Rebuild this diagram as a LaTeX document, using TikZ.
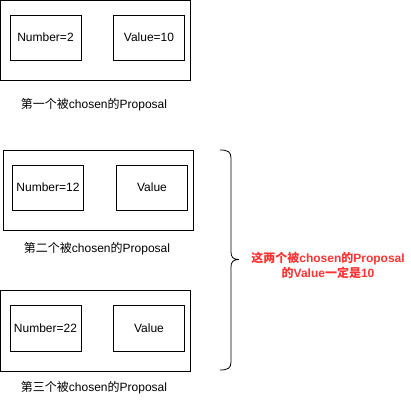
\documentclass[tikz,border=0pt]{standalone}
\usepackage{fontspec}
\setmainfont{Liberation Sans}
\newfontfamily\cjk{Noto Sans CJK SC}
\definecolor{notered}{RGB}{255,51,51}
\newcommand{\zh}[1]{{\cjk #1}}
\begin{document}
\begin{tikzpicture}[x=1pt, y=-1pt,
        font=\fontsize{12}{14}\selectfont,
        proposal/.style={draw, line width=0.8pt, minimum width=190pt, minimum height=80pt, inner sep=0pt},
        field/.style={draw, line width=0.8pt, minimum width=71pt, minimum height=45pt, inner sep=0pt},
        caption/.style={inner sep=0pt}]

        \useasboundingbox (0,0) rectangle (411,401);

        % first chosen proposal
        \node[proposal] (p1) at (95.5,40) {};
        \node[field] (n1) at (45.5,37.5) {Number=2};
        \node[field] (v1) at (149,37.5) {Value=10};
        \node[caption] (l1) at (94,105) {\zh{第一个被}chosen\zh{的}Proposal};

        % second chosen proposal
        \node[proposal] (p2) at (98,190) {};
        \node[field] (n2) at (48,187.5) {Number=12};
        \node[field] (v2) at (152,187.5) {Value};
        \node[caption] (l2) at (97,249) {\zh{第二个被}chosen\zh{的}Proposal};

        % third chosen proposal
        \node[proposal, minimum height=81pt] (p3) at (95.5,330.5) {};
        \node[field, minimum height=46pt] (n3) at (45.5,328) {Number=22};
        \node[field, minimum height=46pt] (v3) at (149,328) {Value};
        \node[caption] (l3) at (94,388) {\zh{第三个被}chosen\zh{的}Proposal};

        % brace
        \coordinate (btop) at (220,150);
        \coordinate (btip) at (239,259.5);
        \coordinate (bbot) at (220,370);
        \draw[line width=0.8pt] (btop) .. controls (228,150) and (231,152) .. (231,158)
            -- (231,252) .. controls (231,257) and (233,259.5) .. (btip)
            (btip) .. controls (233,259.5) and (231,262) .. (231,267)
            -- (231,362) .. controls (231,368) and (228,370) .. (bbot);

        % note
        \node[text=notered, font=\fontsize{12}{15}\selectfont\bfseries, align=center, inner sep=0pt] (note) at (328,265.5)
            {\zh{这两个被}chosen\zh{的}Proposal\\\zh{的}Value\zh{一定是}10};
    \end{tikzpicture}
\end{document}
